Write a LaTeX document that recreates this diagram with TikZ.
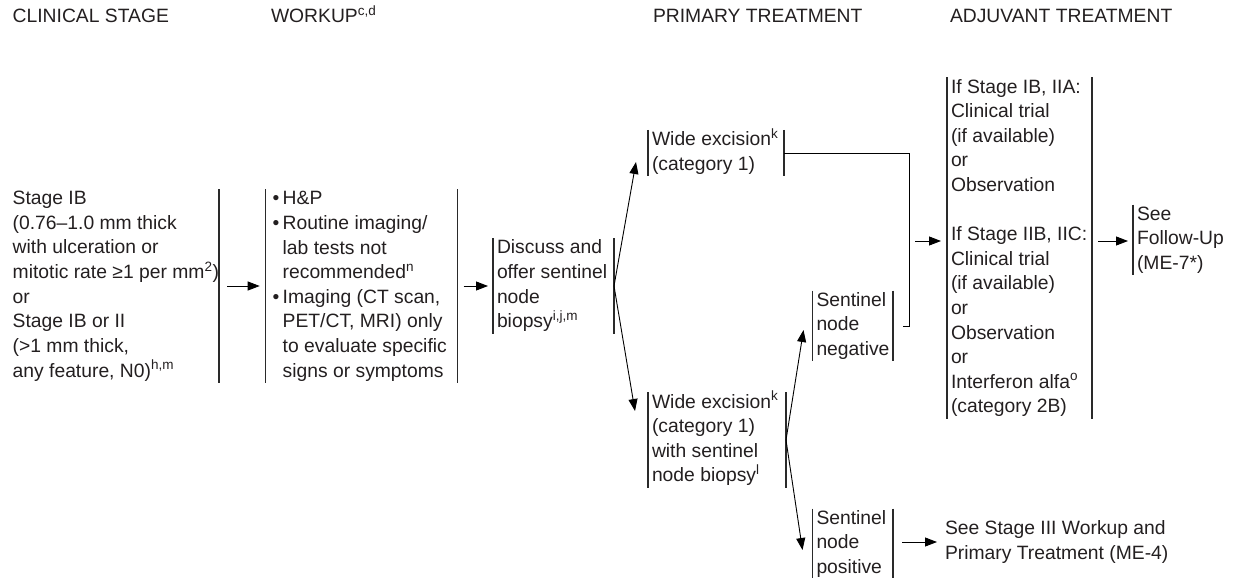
\documentclass[tikz,border=0pt]{standalone}
\usepackage{fontspec}
\setmainfont{Liberation Sans}
\usetikzlibrary{arrows.meta,calc}
\definecolor{tcol}{HTML}{231F20}
\definecolor{barcol}{HTML}{2A2A2A}
\newcommand\fsz{\fontsize{19.3pt}{24.6pt}\selectfont}
\newcommand\tbx[2]{\makebox[#1][l]{\begin{tabular}{@{}l@{}}#2\end{tabular}}}
\newcommand\bul{\makebox[10pt][l]{•}}
\newcommand\ind{\hspace*{10pt}}
\begin{document}
\begin{tikzpicture}[x=1pt,y=-1pt,
  every node/.style={font=\fsz, text=tcol},
  txt/.style={inner ysep=-1.5pt, outer sep=0pt, align=left},
  hdr/.style={anchor=base west, inner sep=0pt, outer sep=0pt},
  barline/.style={line width=1.1pt, draw=barcol},
  ln/.style={line width=0.9pt, draw=black},
  arr/.style={line width=0.9pt, draw=black, -{Triangle[length=12pt,width=9pt]}}]
\useasboundingbox (0,0) rectangle (1239,578);
% headers
\node[hdr] (h1) at (12.7,23) {CLINICAL STAGE};
\node[hdr] (h2) at (271,23) {WORKUP\textsuperscript{c,d}};
\node[hdr] (h3) at (653,23) {PRIMARY TREATMENT};
\node[hdr] (h4) at (950,23) {ADJUVANT TREATMENT};
% boxes
\node[txt, inner xsep=2pt] (stage) at (114.85,286) {\tbx{204.3pt}{Stage IB\\(0.76–1.0 mm thick\\with ulceration or\\mitotic rate ≥1 per mm\textsuperscript{2})\\or\\Stage IB or II\\(>1 mm thick,\\any feature, N0)\textsuperscript{h,m}}};
\node[txt, inner xsep=7pt] (workup) at (361.7,286) {\tbx{178pt}{\bul H\&P\\\bul Routine imaging/\\\ind lab tests not\\\ind recommended\textsuperscript{n}\\\bul Imaging (CT scan,\\\ind PET/CT, MRI) only\\\ind to evaluate specific\\\ind signs or symptoms}};
\node[txt, inner xsep=4pt] (disc) at (553.5,286) {\tbx{113pt}{Discuss and\\offer sentinel\\node\\biopsy\textsuperscript{i,j,m}}};
\node[txt, inner xsep=4pt] (wide1) at (716,153) {\tbx{128pt}{Wide excision\textsuperscript{k}\\(category 1)}};
\node[txt, inner xsep=4pt] (wide2) at (717,440) {\tbx{130pt}{Wide excision\textsuperscript{k}\\(category 1)\\with sentinel\\node biopsy\textsuperscript{l}}};
\node[txt, inner xsep=4pt] (neg) at (852.75,326) {\tbx{72.5pt}{Sentinel\\node\\negative}};
\node[txt, inner xsep=4pt] (pos) at (852.75,544) {\tbx{72.5pt}{Sentinel\\node\\positive}};
\node[txt, inner xsep=4pt] (adj) at (1019.5,248) {\tbx{137pt}{If Stage IB, IIA:\\Clinical trial\\(if available)\\or\\Observation\\ \\If Stage IIB, IIC:\\Clinical trial\\(if available)\\or\\Observation\\or\\Interferon alfa\textsuperscript{o}\\(category 2B)}};
\node[txt, inner xsep=4pt] (follow) at (1183,240) {\tbx{92pt}{See\\Follow-Up\\(ME-7*)}};
\node[txt, inner xsep=0pt, anchor=west] (stage3) at (945,542) {\tbx{290pt}{See Stage III Workup and\\Primary Treatment (ME-4)}};
% bars
\draw[barline] (stage.north east) -- (stage.south east);
\foreach \n in {workup,disc,wide1,wide2,neg,pos,adj}{
  \draw[barline] (\n.north west) -- (\n.south west);
  \draw[barline] (\n.north east) -- (\n.south east);
}
\draw[barline] (follow.north west) -- (follow.south west);
% connectors
\draw[arr] ($(stage.east)+(8,0)$) -- ($(workup.west)+(-6,0)$);
\draw[arr] ($(workup.east)+(6,0)$) -- ($(disc.west)+(-5,0)$);
\draw[arr] (disc.east) -- ($(wide1.west)+(-12,9)$);
\draw[arr] (disc.east) -- ($(wide2.west)+(-13,-29)$);
\coordinate (jn) at (909,326);
\draw[ln] (wide1.east) -| (jn) -- ($(neg.east)+(10,0)$);
\coordinate (jm) at (915,241);
\draw[arr] (jm) -- ($(jm -| adj.west)+(-6,0)$);
\draw[arr] (wide2.east) -- ($(neg.west)+(-9,4)$);
\draw[arr] (wide2.east) -- ($(pos.west)+(-10,6)$);
\draw[arr] ($(pos.east)+(9,-2)$) -- ($(stage3.west)+(-8,0)$);
\draw[arr] ($(adj.east)+(6,-7)$) -- ($(follow.west)+(-5,1)$);
\end{tikzpicture}
\end{document}
